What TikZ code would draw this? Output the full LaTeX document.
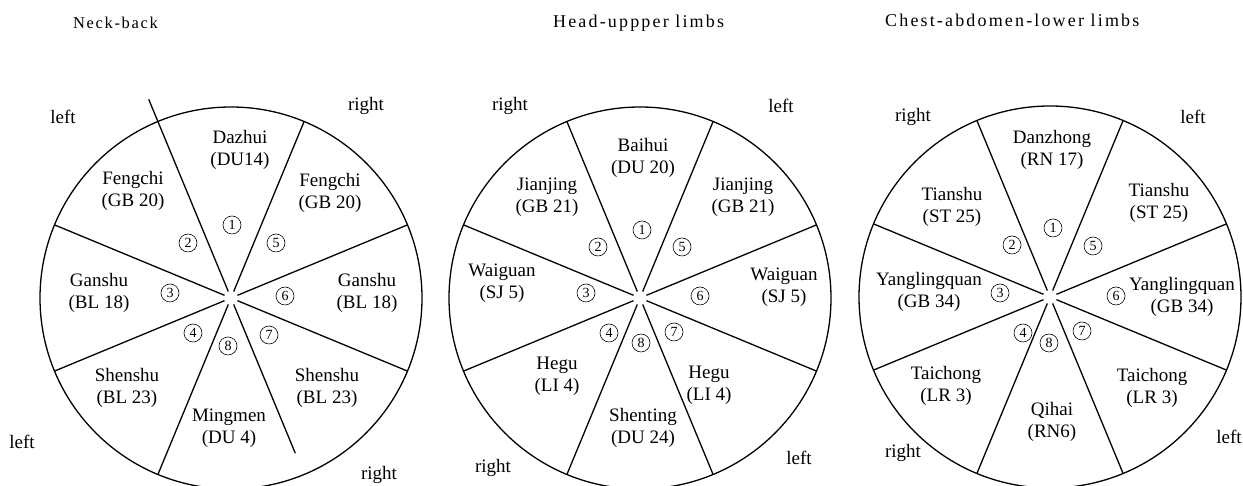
\documentclass[tikz,border=0pt]{standalone}
\usepackage{fontspec}
\setmainfont{Liberation Serif}

\tikzstyle{point}=[align=center,inner sep=0pt,font=\fontsize{19}{22}\selectfont]
\tikzstyle{side}=[inner sep=0pt,font=\fontsize{19}{22}\selectfont]
\tikzstyle{num}=[circle,draw,line width=0.6pt,minimum size=18pt,inner sep=0pt,font=\fontsize{14}{14}\selectfont]
\tikzstyle{title}=[anchor=base west,inner sep=0pt,font=\fontsize{18}{18}\selectfont\addfontfeatures{LetterSpace=12}]
\tikzstyle{wheel}=[line width=1.3pt]

\begin{document}
\begin{tikzpicture}[x=1pt,y=1pt]
        \useasboundingbox (0,0) rectangle (1243,486);

        % titles
        \node[title,font=\fontsize{16.5}{16.5}\selectfont\addfontfeatures{LetterSpace=10}] (tneck) at (73,457) {Neck-back};
        \node[title] (thead)  at (553,458) {Head-uppper limbs};
        \node[title] (tchest) at (885,459) {Chest-abdomen-lower limbs};

        \coordinate (c1) at (231,188);
        \coordinate (c2) at (640,188);
        \coordinate (c3) at (1050,189);

        % wheels
        \begin{scope}[shift={(c1)}]
         \draw[wheel] (0,0) circle (191);
         \foreach \a in {22.5,67.5,157.5,202.5,247.5,337.5}
          \draw[wheel] (\a:7) -- (\a:191);
         \draw[wheel] (112.5:7) -- (112.5:215);
         \draw[wheel] (292.5:7) -- (292.5:168);
        \end{scope}
        \foreach \c in {c2,c3}
        {
         \begin{scope}[shift={(\c)}]
          \draw[wheel] (0,0) circle (191);
          \foreach \a in {22.5,67.5,...,337.5}
           \draw[wheel] (\a:7) -- (\a:191);
         \end{scope}
        }

        % neck-back
        \node[point] (dazhui)    at (240,336) {Dazhui\\(DU14)};
        \node[point] (fengchil)  at (133,295) {Fengchi\\(GB 20)};
        \node[point] (fengchir)  at (330,293) {Fengchi\\(GB 20)};
        \node[point] (ganshul)   at (99,193)  {Ganshu\\(BL 18)};
        \node[point] (ganshur)   at (367,193) {Ganshu\\(BL 18)};
        \node[point] (shenshul)  at (127,98)  {Shenshu\\(BL 23)};
        \node[point] (shenshur)  at (327,98)  {Shenshu\\(BL 23)};
        \node[point] (mingmen)   at (229,58)  {Mingmen\\(DU 4)};

        \node[num] (a1) at (232,261) {1};
        \node[num] (a2) at (188,243) {2};
        \node[num] (a3) at (170,193) {3};
        \node[num] (a4) at (193,153) {4};
        \node[num] (a5) at (276,243) {5};
        \node[num] (a6) at (285,190) {6};
        \node[num] (a7) at (269,151) {7};
        \node[num] (a8) at (228,140) {8};

        \node[side] (aleftt)  at (63,369)  {left};
        \node[side] (arightt) at (366,380) {right};
        \node[side] (aleftb)  at (22,44)   {left};
        \node[side] (arightb) at (379,11)  {right};

        % head-upper limbs
        \node[point] (baihui)    at (643,328) {Baihui\\(DU 20)};
        \node[point] (jianjingl) at (547,289) {Jianjing\\(GB 21)};
        \node[point] (jianjingr) at (743,289) {Jianjing\\(GB 21)};
        \node[point] (waiguanl)  at (502,203) {Waiguan\\(SJ 5)};
        \node[point] (waiguanr)  at (784,199) {Waiguan\\(SJ 5)};
        \node[point] (hegul)     at (557,110) {Hegu\\(LI 4)};
        \node[point] (hegur)     at (709,101) {Hegu\\(LI 4)};
        \node[point] (shenting)  at (643,58)  {Shenting\\(DU 24)};

        \node[num] (b1) at (642,256) {1};
        \node[num] (b2) at (598,239) {2};
        \node[num] (b3) at (586,193) {3};
        \node[num] (b4) at (609,153) {4};
        \node[num] (b5) at (682,239) {5};
        \node[num] (b6) at (700,190) {6};
        \node[num] (b7) at (674,154) {7};
        \node[num] (b8) at (641,143) {8};

        \node[side] (brightt) at (510,380) {right};
        \node[side] (bleftt)  at (781,380) {left};
        \node[side] (brightb) at (493,18)  {right};
        \node[side] (bleftb)  at (799,28)  {left};

        % chest-abdomen-lower limbs
        \node[point] (danzhong)  at (1052,336) {Danzhong\\(RN 17)};
        \node[point] (tianshul)  at (952,279)  {Tianshu\\(ST 25)};
        \node[point] (tianshur)  at (1159,283) {Tianshu\\(ST 25)};
        \node[point] (yangl)     at (929,194)  {Yanglingquan\\(GB 34)};
        \node[point] (yangr)     at (1182,189) {Yanglingquan\\(GB 34)};
        \node[point] (taichongl) at (946,100)  {Taichong\\(LR 3)};
        \node[point] (taichongr) at (1152,98)  {Taichong\\(LR 3)};
        \node[point] (qihai)     at (1052,64)  {Qihai\\(RN6)};

        \node[num] (d1) at (1053,258) {1};
        \node[num] (d2) at (1012,241) {2};
        \node[num] (d3) at (1000,193) {3};
        \node[num] (d4) at (1023,153) {4};
        \node[num] (d5) at (1093,240) {5};
        \node[num] (d6) at (1116,190) {6};
        \node[num] (d7) at (1082,155) {7};
        \node[num] (d8) at (1049,143) {8};

        \node[side] (drightt) at (913,369)  {right};
        \node[side] (dleftt)  at (1193,369) {left};
        \node[side] (drightb) at (903,33)   {right};
        \node[side] (dleftb)  at (1229,49)  {left};
\end{tikzpicture}
\end{document}
